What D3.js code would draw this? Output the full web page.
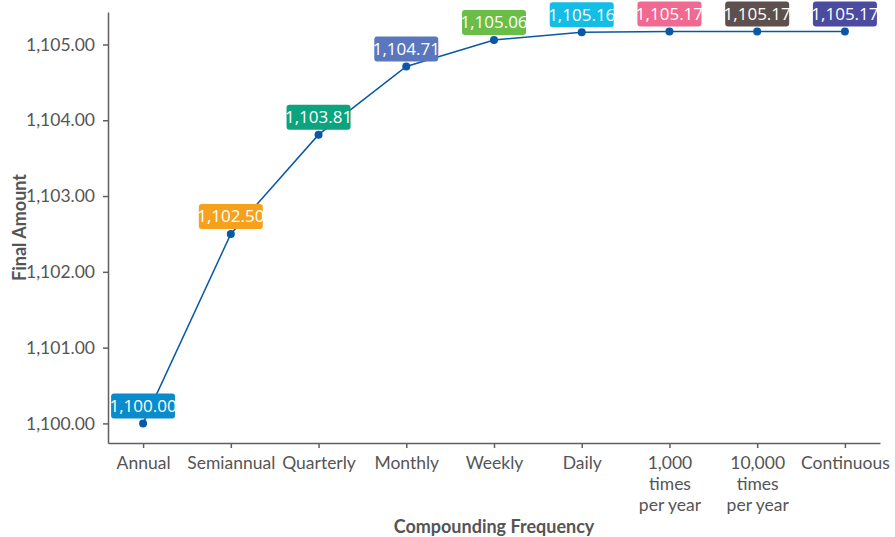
<!DOCTYPE html>
<html>
<head>
<meta charset="utf-8">
<script src="https://cdn.jsdelivr.net/npm/d3@7"></script>
<style>
  html, body { margin: 0; padding: 0; background: #ffffff; }
  svg { display: block; }
</style>
</head>
<body>
<svg id="chart" width="895" height="537"></svg>
<script>
// Final amount of 1,000 at 10% for one year, by compounding frequency
const categories = ["Annual", "Semiannual", "Quarterly", "Monthly", "Weekly", "Daily",
  "1,000 times per year", "10,000 times per year", "Continuous"];
const tickLines = [["Annual"], ["Semiannual"], ["Quarterly"], ["Monthly"], ["Weekly"], ["Daily"],
  ["1,000", "times", "per year"], ["10,000", "times", "per year"], ["Continuous"]];
const finalAmounts = [1100.00, 1102.50, 1103.81, 1104.71, 1105.06, 1105.16, 1105.17, 1105.17, 1105.17];
const labelColors = ["#0a8bcb", "#f6a11c", "#0ba47f", "#5a77bd", "#6abd46", "#14bde6",
  "#f06990", "#5e504c", "#4b4ba0"];
const yTicks = [1100, 1101, 1102, 1103, 1104, 1105];

const margin = { top: 12, right: 15, bottom: 94, left: 108 };
const width = 895, height = 537;
const svg = d3.select("#chart");

const x = d3.scalePoint()
  .domain(categories)
  .range([margin.left, width - margin.right])
  .padding(0.4);

const yMin = d3.min(finalAmounts), yMax = d3.max(finalAmounts);
const pad = (yMax - yMin) * 0.05;
const y = d3.scaleLinear()
  .domain([yMin - pad, yMax + pad])
  .range([height - margin.bottom, margin.top]);

const axisColor = "#5f5f5f";
const textColor = "#555555";
const tickFont = "Lato, 'Open Sans', sans-serif";

// y axis
const yAxis = svg.append("g")
  .attr("transform", `translate(${margin.left},0)`)
  .call(d3.axisLeft(y).tickValues(yTicks).tickFormat(d3.format(",.2f")).tickSize(5).tickPadding(8).tickSizeOuter(0));
yAxis.select(".domain").attr("stroke", axisColor).attr("stroke-width", 1.5);
yAxis.selectAll(".tick line").attr("stroke", axisColor).attr("stroke-width", 1.5);
yAxis.selectAll(".tick text").attr("fill", textColor).style("font-family", tickFont).style("font-size", "17.5px");

// x axis
const xAxis = svg.append("g")
  .attr("transform", `translate(0,${height - margin.bottom})`)
  .call(d3.axisBottom(x).tickSize(5).tickPadding(8).tickSizeOuter(0).tickFormat(() => ""));
xAxis.select(".domain").attr("stroke", axisColor).attr("stroke-width", 1.5);
xAxis.selectAll(".tick line").attr("stroke", axisColor).attr("stroke-width", 1.5);
xAxis.selectAll(".tick text").remove();
xAxis.selectAll(".tick").each(function(d, i) {
  const t = d3.select(this).append("text")
    .attr("fill", textColor)
    .attr("text-anchor", "middle")
    .style("font-family", tickFont)
    .style("font-size", "17.5px");
  tickLines[i].forEach((line, k) => {
    t.append("tspan").attr("x", 0).attr("y", 26 + k * 21).text(line);
  });
});

// axis titles
svg.append("text")
  .attr("x", (margin.left + width - margin.right) / 2)
  .attr("y", 533)
  .attr("text-anchor", "middle")
  .attr("fill", textColor)
  .style("font-family", tickFont)
  .style("font-weight", "bold")
  .style("font-size", "18px")
  .text("Compounding Frequency");

svg.append("text")
  .attr("transform", `translate(26,${(margin.top + height - margin.bottom) / 2}) rotate(-90)`)
  .attr("text-anchor", "middle")
  .attr("fill", textColor)
  .style("font-family", tickFont)
  .style("font-weight", "bold")
  .style("font-size", "18px")
  .text("Final Amount");

// line and points
const lineColor = "#0a57a6";
svg.append("path")
  .datum(finalAmounts)
  .attr("fill", "none")
  .attr("stroke", lineColor)
  .attr("stroke-width", 1.5)
  .attr("d", d3.line().x((d, i) => x(categories[i])).y(d => y(d)));

svg.append("g").selectAll("circle")
  .data(finalAmounts)
  .join("circle")
  .attr("cx", (d, i) => x(categories[i]))
  .attr("cy", d => y(d))
  .attr("r", 4)
  .attr("fill", lineColor);

// value labels
const boxW = 64, boxH = 25, gap = 5;
const labels = svg.append("g").selectAll("g")
  .data(finalAmounts)
  .join("g")
  .attr("transform", (d, i) => `translate(${x(categories[i])},${y(d) - gap - boxH / 2})`);
labels.append("rect")
  .attr("x", -boxW / 2)
  .attr("y", -boxH / 2)
  .attr("width", boxW)
  .attr("height", boxH)
  .attr("rx", 3)
  .attr("fill", (d, i) => labelColors[i]);
labels.append("text")
  .attr("text-anchor", "middle")
  .attr("dy", "0.35em")
  .attr("fill", "#ffffff")
  .style("font-family", "'Open Sans', sans-serif")
  .style("font-size", "17px")
  .text(d => d3.format(",.2f")(d));
</script>
</body>
</html>
